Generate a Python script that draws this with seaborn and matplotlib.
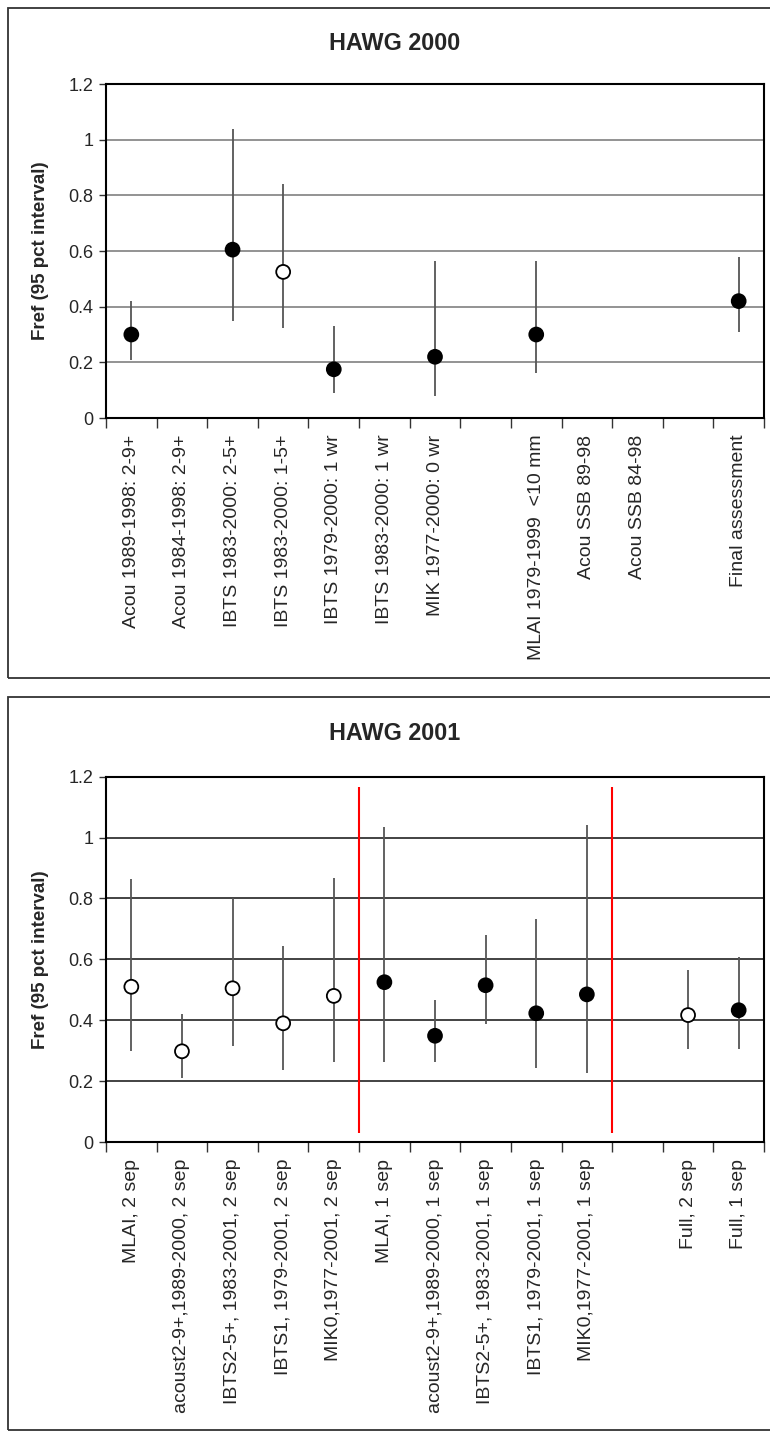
import numpy as np
import pandas as pd
import seaborn as sns
import matplotlib.pyplot as plt
from matplotlib.patches import Rectangle

# HAWG 2000
labels_2000 = ['Acou 1989-1998: 2-9+', 'Acou 1984-1998: 2-9+', 'IBTS 1983-2000: 2-5+',
               'IBTS 1983-2000: 1-5+', 'IBTS 1979-2000: 1 wr', 'IBTS 1983-2000: 1 wr',
               'MIK 1977-2000: 0 wr', '', 'MLAI 1979-1999  <10 mm', 'Acou SSB 89-98',
               'Acou SSB 84-98', '', 'Final assessment']
f_2000 = [0.30, np.nan, 0.605, 0.525, 0.175, np.nan, 0.22, np.nan, 0.30, np.nan, np.nan, np.nan, 0.42]
lo_2000 = [0.21, np.nan, 0.35, 0.325, 0.09, np.nan, 0.08, np.nan, 0.16, np.nan, np.nan, np.nan, 0.31]
hi_2000 = [0.42, np.nan, 1.04, 0.84, 0.33, np.nan, 0.565, np.nan, 0.565, np.nan, np.nan, np.nan, 0.58]
open_2000 = [False, False, False, True, False, False, False, False, False, False, False, False, False]

# HAWG 2001
labels_2001 = ['MLAI, 2 sep', 'acoust2-9+,1989-2000, 2 sep', 'IBTS2-5+, 1983-2001, 2 sep',
               'IBTS1, 1979-2001, 2 sep', 'MIK0,1977-2001, 2 sep', 'MLAI, 1 sep',
               'acoust2-9+,1989-2000, 1 sep', 'IBTS2-5+, 1983-2001, 1 sep',
               'IBTS1, 1979-2001, 1 sep', 'MIK0,1977-2001, 1 sep', '',
               'Full, 2 sep', 'Full, 1 sep']
f_2001 = [0.51, 0.298, 0.505, 0.39, 0.48, 0.525, 0.349, 0.515, 0.423, 0.485, np.nan, 0.417, 0.433]
lo_2001 = [0.30, 0.21, 0.314, 0.237, 0.262, 0.262, 0.262, 0.389, 0.242, 0.226, np.nan, 0.305, 0.305]
hi_2001 = [0.863, 0.42, 0.80, 0.645, 0.868, 1.036, 0.467, 0.68, 0.733, 1.041, np.nan, 0.566, 0.609]
open_2001 = [True, True, True, True, True, False, False, False, False, False, False, True, False]
separators_2001 = [4.5, 9.5]

sns.set_style('white')
plt.rcParams['font.family'] = ['Liberation Sans', 'DejaVu Sans']

fig = plt.figure(figsize=(7.7, 14.32), dpi=100)


def painel(ax, labels, f, lo, hi, aberto, separadores, corgrade):
    df = pd.DataFrame({'pos': np.arange(len(labels)), 'f': f, 'lo': lo, 'hi': hi,
                       'tipo': np.where(aberto, 'aberto', 'cheio')}).dropna()
    ax.yaxis.grid(True, color=corgrade, linewidth=1.2)
    ax.set_axisbelow(True)
    ax.vlines(df['pos'], df['lo'], df['hi'], color='#555555', linewidth=1.3, zorder=2)
    if separadores:
        ax.vlines(separadores, 0.03, 1.165, color='red', linewidth=1.5, zorder=2)
    sns.scatterplot(data=df, x='pos', y='f', hue='tipo',
                    palette={'cheio': 'black', 'aberto': 'white'},
                    edgecolor='black', linewidth=1.3, s=100, legend=False, ax=ax, zorder=3)
    ax.set_xlim(-0.5, len(labels) - 0.5)
    ax.set_ylim(0, 1.2)
    ax.set_yticks(np.arange(0, 1.21, 0.2))
    ax.set_yticklabels(['0', '0.2', '0.4', '0.6', '0.8', '1', '1.2'], fontsize=13)
    ax.set_xticks(np.arange(len(labels)))
    ax.set_xticklabels(labels, rotation=90, fontsize=14, va='top', ha='center')
    ax.set_xticks(np.arange(len(labels) + 1) - 0.5, minor=True)
    ax.tick_params(axis='x', which='major', length=0, pad=12)
    ax.tick_params(axis='x', which='minor', length=7, width=1, color='#333333', direction='out', bottom=True)
    ax.tick_params(axis='y', length=5, width=1, direction='out', left=True, color='#333333', pad=4)
    for s in ax.spines.values():
        s.set_color('black')
        s.set_linewidth(1.5)
    ax.set_xlabel('')
    ax.set_ylabel('Fref (95 pct interval)', fontsize=13.5, fontweight='bold')
    ax.yaxis.set_label_coords(-0.086, 0.5)


ax1 = fig.add_axes([0.1377, 0.7081, 0.8545, 0.2332])
painel(ax1, labels_2000, f_2000, lo_2000, hi_2000, open_2000, [], '#808080')
fig.text(0.512, 1 - 44 / 1432, 'HAWG 2000', fontsize=16.8, fontweight='bold', ha='center', va='center')

ax2 = fig.add_axes([0.1377, 0.2025, 0.8545, 0.2551])
painel(ax2, labels_2001, f_2001, lo_2001, hi_2001, open_2001, separators_2001, '#222222')
fig.text(0.512, 1 - 733 / 1432, 'HAWG 2001', fontsize=16.8, fontweight='bold', ha='center', va='center')

# bordas da area do grafico
fig.add_artist(Rectangle((8 / 770, 1 - 678 / 1432), 1.0, 670 / 1432, transform=fig.transFigure,
                         fill=False, edgecolor='#333333', linewidth=1.3))
fig.add_artist(Rectangle((8 / 770, 1 - 1430 / 1432), 1.0, 733 / 1432, transform=fig.transFigure,
                         fill=False, edgecolor='#333333', linewidth=1.3))

plt.savefig('out.png', dpi=100)
